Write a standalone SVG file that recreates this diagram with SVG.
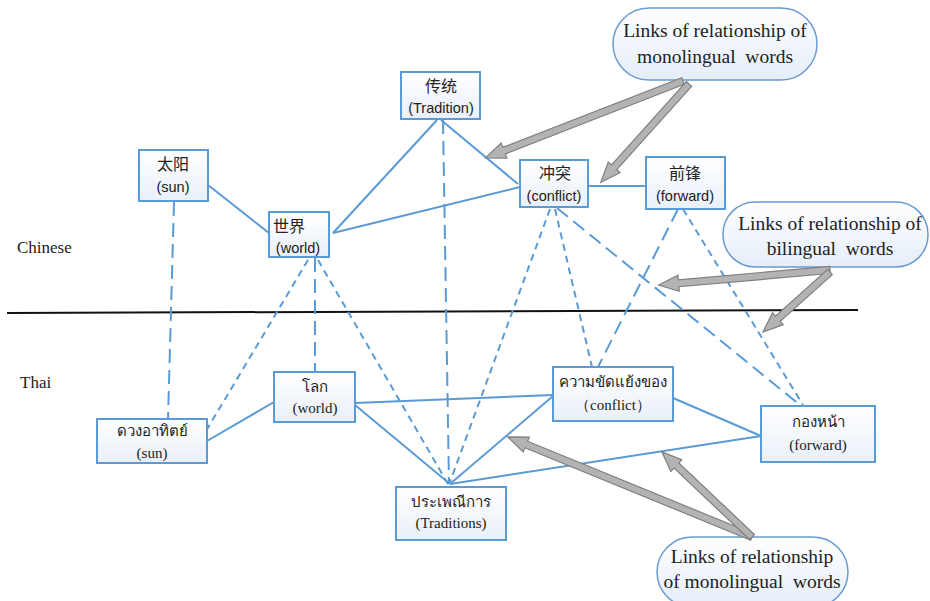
<svg xmlns="http://www.w3.org/2000/svg" width="930" height="601" viewBox="0 0 930 601">
<defs>
<linearGradient id="boxg" x1="0" y1="0" x2="0" y2="1">
<stop offset="0" stop-color="#ffffff"/><stop offset="1" stop-color="#e9f0f9"/>
</linearGradient>
<linearGradient id="callg" x1="0" y1="0" x2="0" y2="1">
<stop offset="0" stop-color="#ffffff"/><stop offset="1" stop-color="#e4edf8"/>
</linearGradient>
</defs>
<style>
.box{fill:url(#boxg);stroke:#5b9bd5;stroke-width:2}
.call{fill:url(#callg);stroke:#6a9bd0;stroke-width:1.5}
.ln{stroke:#5b9bd5;stroke-width:2;fill:none}
.dl{stroke:#5b9bd5;stroke-width:2;fill:none;stroke-dasharray:14 7}
.ds{stroke:#5b9bd5;stroke-width:2;fill:none;stroke-dasharray:7 5}
.arr{fill:#b3b3b3;stroke:#7f7f7f;stroke-width:1.2}
.zh{font-family:"Noto Sans CJK SC","Noto Sans",sans-serif;font-size:16px;fill:#222;text-anchor:middle}
.zl{font-family:"Liberation Sans","DejaVu Sans",sans-serif;font-size:14.5px;fill:#222;text-anchor:middle}
.th{font-family:"Liberation Serif","Noto Sans","DejaVu Sans",serif;font-size:15px;fill:#222;text-anchor:middle}
.ct{font-family:"Liberation Serif",serif;font-size:19.5px;fill:#222;text-anchor:middle;white-space:pre}
.lab{font-family:"Liberation Serif",serif;font-size:17px;fill:#222}
</style>

<line x1="7" y1="313" x2="858" y2="310" stroke="#111" stroke-width="2"/>
<text class="lab" x="17" y="253">Chinese</text>
<text class="lab" x="20" y="388">Thai</text>

<g id="connectors">
<line class="ln" x1="208" y1="185" x2="269" y2="233"/>
<line class="ln" x1="333" y1="233" x2="437" y2="120"/>
<line class="ln" x1="333" y1="233" x2="520" y2="187"/>
<line class="ln" x1="441" y1="120" x2="518" y2="184"/>
<line class="ln" x1="588" y1="186" x2="646" y2="186"/>
<line class="dl" x1="174" y1="202" x2="168" y2="419"/>
<line class="dl" x1="443" y1="120" x2="449" y2="484"/>
<line class="dl" x1="315" y1="258" x2="315" y2="372"/>
<line class="ds" x1="308" y1="260" x2="203" y2="436"/>
<line class="ds" x1="318" y1="260" x2="448" y2="484"/>
<line class="ds" x1="550" y1="209" x2="450" y2="482"/>
<line class="ds" x1="555" y1="209" x2="592" y2="367"/>
<line class="dl" x1="557" y1="208" x2="800" y2="405"/>
<line class="dl" x1="678" y1="209" x2="598" y2="367"/>
<line class="ds" x1="683" y1="209" x2="803" y2="405"/>
<line class="ln" x1="207" y1="441" x2="274" y2="402"/>
<line class="ln" x1="355" y1="403" x2="553" y2="395"/>
<line class="ln" x1="355" y1="405" x2="450" y2="484"/>
<line class="ln" x1="450" y1="484" x2="553" y2="396"/>
<line class="ln" x1="450" y1="484" x2="761" y2="436"/>
<line class="ln" x1="673" y1="398" x2="761" y2="436"/>
</g>

<g id="zh-sun"><rect class="box" x="139" y="150" width="69" height="51"/><text class="zh" x="173" y="170">太阳</text><text class="zl" x="173" y="192">(sun)</text></g>
<g id="zh-world"><rect class="box" x="269" y="212" width="60" height="45"/><text class="zh" x="273" y="232" style="text-anchor:start">世界</text><text class="zl" x="298" y="253">(world)</text></g>
<g id="zh-tradition"><rect class="box" x="401" y="72" width="79" height="47"/><text class="zh" x="441" y="92">传统</text><text class="zl" x="441" y="113">(Tradition)</text></g>
<g id="zh-conflict"><rect class="box" x="520" y="160" width="68" height="47"/><text class="zh" x="555" y="179">冲突</text><text class="zl" x="554" y="201">(conflict)</text></g>
<g id="zh-forward"><rect class="box" x="646" y="157" width="79" height="52"/><text class="zh" x="685" y="179">前锋</text><text class="zl" x="685" y="201">(forward)</text></g>

<g id="th-sun"><rect class="box" x="97" y="419" width="110" height="44"/><text class="th" x="152" y="436">ดวงอาทิตย์</text><text class="th" x="152" y="458">(sun)</text></g>
<g id="th-world"><rect class="box" x="274" y="372" width="81" height="50"/><text class="th" x="315" y="392">โลก</text><text class="th" x="315" y="413">(world)</text></g>
<g id="th-traditions"><rect class="box" x="396" y="487" width="110" height="53"/><text class="th" x="451" y="507">ประเพณีการ</text><text class="th" x="451" y="528">(Traditions)</text></g>
<g id="th-conflict"><rect class="box" x="553" y="367" width="120" height="54"/><text class="th" x="613" y="387">ความขัดแย้งของ</text><text class="th" x="613" y="410">（conflict）</text></g>
<g id="th-forward"><rect class="box" x="761" y="406" width="114" height="56"/><text class="th" x="818" y="427">กองหน้า</text><text class="th" x="818" y="450">(forward)</text></g>

<g id="callout-top"><rect class="call" x="613" y="8" width="204" height="72" rx="36"/><text class="ct" x="715" y="37">Links of relationship of</text><text class="ct" x="715" y="63">monolingual  words</text></g>
<g id="callout-bilingual"><rect class="call" x="723" y="202" width="205" height="65" rx="32"/><text class="ct" x="830" y="230">Links of relationship of</text><text class="ct" x="830" y="255">bilingual  words</text></g>
<g id="callout-bottom"><rect class="call" x="657" y="537" width="191" height="70" rx="35"/><text class="ct" x="752" y="563">Links of relationship</text><text class="ct" x="752" y="588">of monolingual  words</text></g>

<g id="arrows">
<path class="arr" transform="translate(683,81) rotate(158.75)" d="M0,-3.5 L192,-3.5 L192,-8 L212,0 L192,8 L192,3.5 L0,3.5 Z"/>
<path class="arr" transform="translate(689,84) rotate(131.92)" d="M0,-3.5 L112,-3.5 L112,-8 L132,0 L112,8 L112,3.5 L0,3.5 Z"/>
<path class="arr" transform="translate(830,270) rotate(174.99)" d="M0,-3.5 L152,-3.5 L152,-8 L172,0 L152,8 L152,3.5 L0,3.5 Z"/>
<path class="arr" transform="translate(830,272) rotate(138.16)" d="M0,-3.5 L70,-3.5 L70,-8 L90,0 L70,8 L70,3.5 L0,3.5 Z"/>
<path class="arr" transform="translate(752,537) rotate(-157.71)" d="M0,-3.5 L244,-3.5 L244,-8 L264,0 L244,8 L244,3.5 L0,3.5 Z"/>
<path class="arr" transform="translate(752,537) rotate(-136.64)" d="M0,-3.5 L104,-3.5 L104,-8 L124,0 L104,8 L104,3.5 L0,3.5 Z"/>
</g>
</svg>
